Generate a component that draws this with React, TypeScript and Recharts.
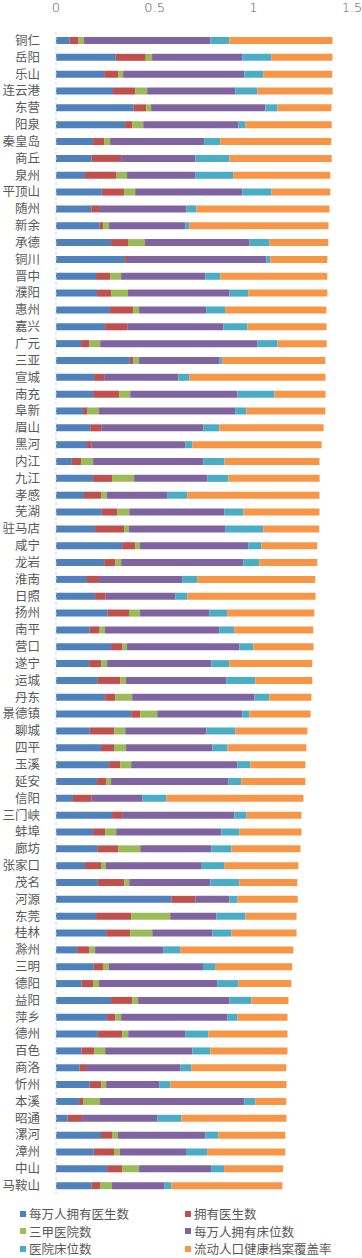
import { BarChart, Bar, XAxis, YAxis } from "recharts";

const cities = [
  "铜仁", "岳阳", "乐山", "连云港", "东营", "阳泉", "秦皇岛", "商丘", "泉州", "平顶山",
  "随州", "新余", "承德", "铜川", "晋中", "濮阳", "惠州", "嘉兴", "广元", "三亚", "宣城", "南充",
  "阜新", "眉山", "黑河", "内江", "九江", "孝感", "芜湖", "驻马店", "咸宁", "龙岩", "淮南",
  "日照", "扬州", "南平", "营口", "遂宁", "运城", "丹东", "景德镇", "聊城", "四平", "玉溪", "延安",
  "信阳", "三门峡", "蚌埠", "廊坊", "张家口", "茂名", "河源", "东莞", "桂林", "滁州", "三明",
  "德阳", "益阳", "萍乡", "德州", "百色", "商洛", "忻州", "本溪", "昭通", "漯河", "漳州", "中山", "马鞍山"
];

const doctorsPer10k = [
  0.068, 0.303, 0.244, 0.289, 0.394, 0.35, 0.188, 0.181, 0.147, 0.232,
  0.181, 0.222, 0.279, 0.35, 0.203, 0.208, 0.274, 0.249, 0.127, 0.374, 0.193, 0.188,
  0.137, 0.173, 0.157, 0.08, 0.188, 0.142, 0.232, 0.198, 0.335, 0.244, 0.157,
  0.198, 0.262, 0.171, 0.279, 0.168, 0.212, 0.249, 0.381, 0.171, 0.228, 0.269, 0.208,
  0.086, 0.284, 0.188, 0.212, 0.147, 0.212, 0.584, 0.203, 0.254, 0.107, 0.191,
  0.13, 0.279, 0.259, 0.212, 0.13, 0.12, 0.171, 0.117, 0.059, 0.228, 0.191, 0.259, 0.181
];

const doctors = [
  0.044, 0.152, 0.071, 0.112, 0.063, 0.036, 0.056, 0.149, 0.157, 0.113,
  0.037, 0.017, 0.086, 0.015, 0.071, 0.071, 0.117, 0.112, 0.041, 0.017, 0.051, 0.132,
  0.02, 0.056, 0.024, 0.047, 0.096, 0.086, 0.078, 0.147, 0.066, 0.056, 0.061,
  0.054, 0.108, 0.047, 0.056, 0.061, 0.113, 0.051, 0.046, 0.124, 0.066, 0.056, 0.046,
  0.095, 0.051, 0.061, 0.103, 0.081, 0.134, 0.122, 0.178, 0.122, 0.061, 0.047,
  0.058, 0.107, 0.041, 0.124, 0.063, 0.032, 0.058, 0.02, 0.073, 0.056, 0.103, 0.076, 0.042
];

const topHospitals = [
  0.03, 0.032, 0.025, 0.061, 0.025, 0.056, 0.03, 0, 0.056, 0.056,
  0, 0.03, 0.086, 0, 0.056, 0.086, 0.03, 0, 0.056, 0.03, 0, 0.056,
  0.061, 0, 0, 0.061, 0.112, 0.03, 0.061, 0.025, 0.025, 0.03, 0,
  0, 0.056, 0.03, 0.025, 0.03, 0.03, 0.086, 0.086, 0.056, 0.061, 0.056, 0.025,
  0, 0, 0.056, 0.112, 0.025, 0.025, 0, 0.198, 0.112, 0.03, 0.03,
  0.03, 0.03, 0.03, 0.03, 0.056, 0, 0.025, 0.086, 0, 0.03, 0.03, 0.086, 0.061
];

const bedsPer10k = [
  0.64, 0.457, 0.614, 0.447, 0.579, 0.482, 0.477, 0.376, 0.345, 0.543,
  0.442, 0.386, 0.528, 0.701, 0.426, 0.513, 0.34, 0.487, 0.797, 0.406, 0.376, 0.543,
  0.69, 0.518, 0.474, 0.558, 0.371, 0.305, 0.482, 0.487, 0.548, 0.619, 0.421,
  0.352, 0.35, 0.579, 0.569, 0.528, 0.508, 0.619, 0.431, 0.411, 0.437, 0.538, 0.594,
  0.256, 0.569, 0.533, 0.36, 0.482, 0.411, 0.173, 0.234, 0.305, 0.345, 0.477,
  0.599, 0.462, 0.538, 0.289, 0.442, 0.477, 0.269, 0.731, 0.381, 0.442, 0.335, 0.365, 0.264
];

const hospitalBeds = [
  0.096, 0.147, 0.096, 0.112, 0.061, 0.036, 0.081, 0.173, 0.193, 0.147,
  0.051, 0.02, 0.102, 0.02, 0.076, 0.096, 0.096, 0.122, 0.102, 0.015, 0.056, 0.188,
  0.056, 0.081, 0.036, 0.107, 0.107, 0.102, 0.096, 0.193, 0.066, 0.081, 0.076,
  0.061, 0.091, 0.076, 0.071, 0.091, 0.147, 0.076, 0.036, 0.147, 0.076, 0.066, 0.066,
  0.122, 0.061, 0.091, 0.102, 0.117, 0.147, 0.041, 0.147, 0.096, 0.086, 0.061,
  0.107, 0.112, 0.051, 0.117, 0.091, 0.056, 0.056, 0.056, 0.122, 0.066, 0.107, 0.066, 0.036
];

const recordCoverage = [
  0.523, 0.31, 0.35, 0.381, 0.274, 0.437, 0.563, 0.518, 0.492, 0.299,
  0.675, 0.706, 0.299, 0.289, 0.543, 0.401, 0.513, 0.401, 0.249, 0.523, 0.69, 0.259,
  0.401, 0.528, 0.655, 0.482, 0.462, 0.67, 0.386, 0.284, 0.284, 0.294, 0.599,
  0.65, 0.442, 0.401, 0.305, 0.421, 0.289, 0.213, 0.31, 0.365, 0.401, 0.279, 0.325,
  0.695, 0.279, 0.315, 0.35, 0.376, 0.294, 0.305, 0.259, 0.33, 0.574, 0.391,
  0.269, 0.188, 0.254, 0.401, 0.391, 0.482, 0.589, 0.157, 0.533, 0.34, 0.396, 0.299, 0.563
];

const xTicks = [0, 0.5, 1, 1.5];

const series = [
  { key: "a", name: "每万人拥有医生数", color: "#4f81bd", values: doctorsPer10k },
  { key: "b", name: "拥有医生数", color: "#c0504d", values: doctors },
  { key: "c", name: "三甲医院数", color: "#9bbb59", values: topHospitals },
  { key: "d", name: "每万人拥有床位数", color: "#8064a2", values: bedsPer10k },
  { key: "e", name: "医院床位数", color: "#4bacc6", values: hospitalBeds },
  { key: "f", name: "流动人口健康档案覆盖率", color: "#f79646", values: recordCoverage }
];

const data = cities.map((name, i) => {
  const row: Record<string, string | number> = { name };
  series.forEach((s) => {
    row[s.key] = s.values[i];
  });
  return row;
});

const font = "'Noto Sans CJK SC', 'Noto Sans', sans-serif";
const textColor = "#595959";

export default function App() {
  return (
    <div style={{ position: "absolute", left: 0, top: 0, width: 362, height: 1258, background: "#fff" }}>
      <BarChart
        width={362}
        height={1258}
        data={data}
        layout="vertical"
        margin={{ top: 0, right: 10, bottom: 64, left: 0 }}
        barSize={7}
      >
        <XAxis
          type="number"
          orientation="top"
          domain={[0, 1.5]}
          ticks={xTicks}
          height={32}
          axisLine={false}
          tickLine={false}
          tickSize={0}
          tickMargin={20}
          tick={{ fill: textColor, fontSize: 13, fontFamily: "'DejaVu Sans', sans-serif", fontWeight: 300 }}
        />
        <YAxis
          type="category"
          dataKey="name"
          width={56}
          interval={0}
          tickLine={false}
          tickSize={0}
          tickMargin={16}
          axisLine={{ stroke: "#d4d4d4", strokeDasharray: "3 2" }}
          tick={{ fill: textColor, fontSize: 12.5, fontFamily: font }}
        />
        {series.map((s) => (
          <Bar key={s.key} dataKey={s.key} name={s.name} stackId="all" fill={s.color} isAnimationActive={false} />
        ))}
      </BarChart>
      {/* legend sits under the plot, two columns */}
      <div
        style={{
          position: "absolute",
          left: 20,
          top: 1205,
          display: "grid",
          gridTemplateColumns: "165px 170px",
          fontFamily: font,
          fontSize: 12.5,
          color: textColor,
          lineHeight: "17.5px"
        }}
      >
        {series.map((s) => (
          <div key={s.key} style={{ display: "flex", alignItems: "center", whiteSpace: "nowrap" }}>
            <span style={{ display: "inline-block", width: 6, height: 6, background: s.color, marginRight: 3 }} />
            <span>{s.name}</span>
          </div>
        ))}
      </div>
    </div>
  );
}
